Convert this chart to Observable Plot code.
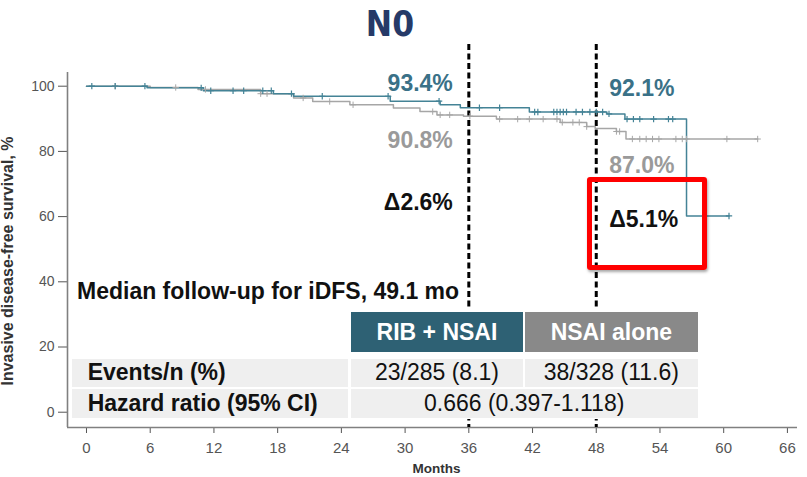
<!DOCTYPE html>
<html><head><meta charset="utf-8">
<script src="https://cdn.jsdelivr.net/npm/d3@7"></script>
<script src="https://cdn.jsdelivr.net/npm/@observablehq/plot@0.6"></script>
<style>
body{margin:0;background:#fff;overflow:hidden;}
#wrap{position:relative;width:807px;height:477px;font-family:"Liberation Sans",Arial,sans-serif;color:#111;}
#wrap svg{position:absolute;left:0;top:0;}
.abs{position:absolute;white-space:nowrap;}
.cell{position:absolute;display:flex;align-items:center;justify-content:center;font-size:23px;line-height:23px;white-space:nowrap;}
</style></head><body><div id="wrap"></div>
<script>
// ---------- data ----------
const chartTitle = "N0";
const xTicks = [0, 6, 12, 18, 24, 30, 36, 42, 48, 54, 60, 66];
const yTicks = [0, 20, 40, 60, 80, 100];
const xTitle = "Months";
const yTitle = "Invasive disease-free survival, %";

// RIB + NSAI Kaplan-Meier steps
const ribMonths = [0, 5.7, 11.0, 17.6, 19.5, 28.6, 33.3, 35.2, 41.7, 49.0, 50.7, 56.5, 60.5];
const ribSurv   = [100, 99.5, 98.6, 97.7, 96.9, 95.4, 94.3, 93.4, 92.1, 91.5, 89.9, 60.2, 60.2];
const ribCensor = [0.5, 2.7, 5.5, 10.8, 11.7, 13.8, 14.8, 16.6, 17.4, 19.3, 22.2, 28.4, 33.2, 37.0, 38.9, 42.2, 42.5, 44.0, 44.3, 44.6, 44.9, 45.2, 46.1, 46.7, 47.4, 48.0, 48.6, 49.2, 50.9, 51.5, 52.1, 53.4, 54.8, 55.2, 60.5];

// NSAI alone Kaplan-Meier steps
const nsaiMonths = [0, 6.0, 10.5, 16.4, 19.5, 21.3, 24.8, 28.9, 31.4, 33.0, 35.5, 38.6, 44.6, 47.1, 47.9, 49.9, 50.8, 63.2];
const nsaiSurv   = [100, 99.6, 99.0, 97.7, 96.4, 95.3, 94.3, 93.3, 92.2, 91.2, 90.8, 89.9, 88.9, 87.6, 87.0, 86.1, 83.8, 83.8];
const nsaiCensor = [2.7, 8.4, 11.2, 16.4, 17.0, 20.4, 22.9, 25.1, 32.6, 33.3, 34.2, 36.1, 38.9, 40.6, 41.7, 43.0, 44.3, 44.8, 45.8, 46.4, 47.1, 49.9, 50.2, 51.4, 52.1, 52.7, 53.3, 53.9, 55.5, 56.1, 56.5, 60.3, 63.2];

const landmarkMonths = [36, 48];
const ribLandmarkText  = ["93.4%", "92.1%"];
const nsaiLandmarkText = ["90.8%", "87.0%"];
const deltaText        = ["\u03942.6%", "\u03945.1%"];

const medianText = "Median follow-up for iDFS, 49.1 mo";
const groupNames = ["RIB + NSAI", "NSAI alone"];
const rowLabels = ["Events/n (%)", "Hazard ratio (95% CI)"];
const eventsValues = ["23/285 (8.1)", "38/328 (11.6)"];
const hazardValue = "0.666 (0.397-1.118)";

// ---------- styles / layout ----------
const tealLine = "#448396", grayLine = "#a6a6a6";
const tealText = "#3a7187", grayText = "#9a9a9a";
const xDomain = [-1.789, 66.95], yDomain = [-4.69, 104.2];
const dashTop = 112.8;
const labelY = {rib: [98.4, 97.1], nsai: [80.9, 73.5], delta: [61.9, 56.7]};

function survAt(months, surv, t) {
  let v = surv[0];
  for (let i = 0; i < months.length; i++) if (months[i] <= t) v = surv[i];
  return v;
}
const ribData = ribMonths.map((m, i) => ({m, s: ribSurv[i]}));
const nsaiData = nsaiMonths.map((m, i) => ({m, s: nsaiSurv[i]}));
const ribCens = ribCensor.map(m => ({m, s: survAt(ribMonths, ribSurv, m)}));
const nsaiCens = nsaiCensor.map(m => ({m, s: survAt(nsaiMonths, nsaiSurv, m)}));

const left = landmarkMonths.slice(0, 1).flatMap((m, i) => [
  {m, y: labelY.rib[i], t: ribLandmarkText[i], c: tealText},
  {m, y: labelY.nsai[i], t: nsaiLandmarkText[i], c: grayText},
  {m, y: labelY.delta[i], t: deltaText[i], c: "#111"}]);
const right = landmarkMonths.slice(1).flatMap((m, j) => { const i = j + 1; return [
  {m, y: labelY.rib[i], t: ribLandmarkText[i], c: tealText},
  {m, y: labelY.nsai[i], t: nsaiLandmarkText[i], c: grayText},
  {m, y: labelY.delta[i], t: deltaText[i], c: "#111"}]; });

const plot = Plot.plot({
  width: 807, height: 477,
  marginTop: 72, marginBottom: 50, marginLeft: 67, marginRight: 10,
  x: {domain: xDomain}, y: {domain: yDomain},
  style: {fontFamily: '"Liberation Sans", Arial, sans-serif', background: "transparent", overflow: "visible"},
  marks: [
    Plot.axisY(yTicks, {tickSize: 9, tickPadding: 4, fontSize: 14, stroke: "#555", fill: "#555", label: null}),
    Plot.axisX(xTicks, {tickSize: 6, tickPadding: 9, fontSize: 15, stroke: "#555", fill: "#555", label: null}),
    Plot.ruleX([xDomain[0]], {stroke: "#808080", strokeWidth: 1.6}),
    Plot.ruleY([yDomain[0]], {stroke: "#808080", strokeWidth: 1.6}),
    Plot.ruleX(landmarkMonths, {y1: dashTop, y2: yDomain[0], stroke: "#000", strokeWidth: 3, strokeDasharray: "6,3.5"}),
    Plot.line(nsaiData, {x: "m", y: "s", curve: "step-after", stroke: grayLine, strokeWidth: 1.5}),
    Plot.line(ribData, {x: "m", y: "s", curve: "step-after", stroke: tealLine, strokeWidth: 1.5}),
    Plot.dot(nsaiCens, {x: "m", y: "s", symbol: "plus", r: 2.2, stroke: grayLine, strokeWidth: 1}),
    Plot.dot(ribCens, {x: "m", y: "s", symbol: "plus", r: 2.2, stroke: tealLine, strokeWidth: 1.2}),
    Plot.text(left, {x: "m", y: "y", text: "t", fill: "c", dx: -16, textAnchor: "end", lineAnchor: "bottom", fontSize: 23, fontWeight: "bold"}),
    Plot.text(right, {x: "m", y: "y", text: "t", fill: "c", dx: 13, textAnchor: "start", lineAnchor: "bottom", fontSize: 23, fontWeight: "bold"})
  ]
});
const wrap = document.getElementById("wrap");
wrap.appendChild(plot);

function txt(s, x, base, fs, anchor, css) {
  const d = document.createElement("div");
  d.className = "abs";
  d.textContent = s;
  d.style.left = x + "px";
  d.style.top = (base - 0.8465 * fs) + "px";
  d.style.fontSize = fs + "px";
  d.style.lineHeight = fs + "px";
  if (anchor === "middle") d.style.transform = "translateX(-50%)";
  if (anchor === "end") d.style.transform = "translateX(-100%)";
  Object.assign(d.style, css || {});
  wrap.appendChild(d);
  return d;
}
function box(x, y, w, h, css, text) {
  const d = document.createElement("div");
  d.className = "cell";
  Object.assign(d.style, {left: x + "px", top: y + "px", width: w + "px", height: h + "px"}, css || {});
  if (text) d.textContent = text;
  wrap.appendChild(d);
  return d;
}

// title
txt(chartTitle, 390, 36.7, 35, "middle", {fontWeight: "bold", color: "#263a68", fontFamily: '"Liberation Sans Narrow","DejaVu Sans Condensed","Liberation Sans",sans-serif'});
// axis titles
const yt = document.createElement("div");
yt.className = "abs"; yt.textContent = yTitle;
Object.assign(yt.style, {left: "7.5px", top: "261px", fontSize: "16px", lineHeight: "16px", fontWeight: "bold", color: "#333", transform: "translate(-50%,-50%) rotate(-90deg)"});
wrap.appendChild(yt);
txt(xTitle, 436.5, 473, 13.5, "middle", {fontWeight: "bold", color: "#333"});

// median follow-up
txt(medianText, 77, 299.3, 23, "start", {fontWeight: "bold"});

// table
box(70, 309, 630, 110, {background: "#fff"});
box(350.7, 312.3, 172.6, 40, {background: "#2e6174", color: "#fff", fontWeight: "bold"}, groupNames[0]);
box(525, 312.3, 172.7, 40, {background: "#898989", color: "#fff", fontWeight: "bold"}, groupNames[1]);
const rowFill = "#efefef";
box(71.7, 359, 276.8, 27.5, {background: rowFill, fontWeight: "bold", justifyContent: "flex-start", paddingLeft: "16px", boxSizing: "border-box"}, rowLabels[0]);
box(350.7, 359, 172.6, 27.5, {background: rowFill}, eventsValues[0]);
box(525, 359, 172.7, 27.5, {background: rowFill}, eventsValues[1]);
box(71.7, 388.5, 276.8, 29.5, {background: rowFill, fontWeight: "bold", justifyContent: "flex-start", paddingLeft: "16px", boxSizing: "border-box"}, rowLabels[1]);
box(350.7, 388.5, 347, 29.5, {background: rowFill}, hazardValue);

// highlight box
box(587, 177, 120, 93, {border: "5px solid #f00", borderRadius: "3px", boxSizing: "border-box", boxShadow: "1px 2px 3px rgba(0,0,0,0.35)"});
</script>
</body></html>
